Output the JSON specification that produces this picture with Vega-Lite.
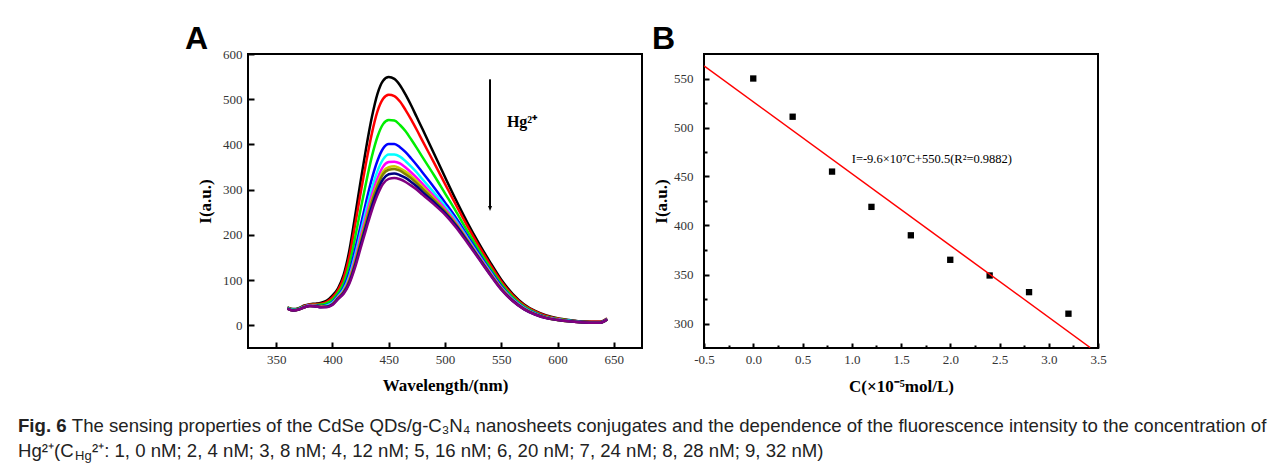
{
  "$schema": "https://vega.github.io/schema/vega-lite/v6.json",
  "background": "white",
  "padding": {"left": 18, "right": 18, "top": 22, "bottom": 4},
  "config": {
    "view": {"stroke": "black", "strokeWidth": 2},
    "axis": {"domain": false, "tickColor": "black", "tickWidth": 2, "labelFont": "Liberation Serif", "labelFontSize": 13, "labelColor": "#333333", "titleFont": "Liberation Serif", "titleFontSize": 17, "titleFontWeight": "bold", "titleColor": "black", "grid": false, "labelFlush": false, "labelOverlap": false},
    "title": {"font": "Liberation Sans", "fontSize": 32, "fontWeight": "bold", "color": "black", "anchor": "start", "frame": "group"}
  },
  "bounds": "flush",
  "spacing": 359,
  "vconcat": [
    {
      "bounds": "flush",
      "spacing": 62,
      "hconcat": [
        {
          "width": 394, "height": 294,
          "title": {"text": "A", "dx": -63, "offset": -8},
          "layer": [
            {
              "data": {"values": [
                {"w":360,"s1":40,"s2":39,"s3":39,"s4":38,"s5":38,"s6":37,"s7":37,"s8":37,"s9":37,"s10":37},
                {"w":365,"s1":36,"s2":35,"s3":35,"s4":34,"s5":34,"s6":33,"s7":33,"s8":33,"s9":33,"s10":33},
                {"w":370,"s1":38,"s2":37,"s3":37,"s4":36,"s5":36,"s6":35,"s7":35,"s8":35,"s9":35,"s10":35},
                {"w":375,"s1":44,"s2":43,"s3":42,"s4":41,"s5":41,"s6":41,"s7":40,"s8":40,"s9":40,"s10":40},
                {"w":380,"s1":47,"s2":46,"s3":45,"s4":44,"s5":44,"s6":44,"s7":43,"s8":43,"s9":43,"s10":43},
                {"w":385,"s1":48,"s2":47,"s3":45,"s4":44,"s5":43,"s6":43,"s7":43,"s8":43,"s9":42,"s10":42},
                {"w":390,"s1":50,"s2":48,"s3":46,"s4":43,"s5":42,"s6":42,"s7":41,"s8":41,"s9":40,"s10":40},
                {"w":395,"s1":55,"s2":52,"s3":49,"s4":45,"s5":44,"s6":42,"s7":42,"s8":41,"s9":41,"s10":40},
                {"w":400,"s1":66,"s2":62,"s3":57,"s4":52,"s5":50,"s6":48,"s7":47,"s8":47,"s9":46,"s10":45},
                {"w":405,"s1":82,"s2":78,"s3":72,"s4":66,"s5":64,"s6":62,"s7":61,"s8":60,"s9":59,"s10":58},
                {"w":410,"s1":112,"s2":105,"s3":94,"s4":84,"s5":80,"s6":77,"s7":75,"s8":74,"s9":72,"s10":70},
                {"w":415,"s1":165,"s2":152,"s3":134,"s4":117,"s5":109,"s6":104,"s7":101,"s8":99,"s9":95,"s10":92},
                {"w":420,"s1":240,"s2":220,"s3":192,"s4":166,"s5":154,"s6":146,"s7":140,"s8":137,"s9":132,"s10":127},
                {"w":425,"s1":318,"s2":292,"s3":256,"s4":220,"s5":205,"s6":195,"s7":187,"s8":183,"s9":177,"s10":170},
                {"w":430,"s1":393,"s2":361,"s3":317,"s4":274,"s5":256,"s6":243,"s7":234,"s8":229,"s9":221,"s10":213},
                {"w":435,"s1":460,"s2":424,"s3":373,"s4":324,"s5":303,"s6":288,"s7":278,"s8":273,"s9":263,"s10":254},
                {"w":440,"s1":512,"s2":473,"s3":417,"s4":364,"s5":341,"s6":325,"s7":314,"s8":308,"s9":298,"s10":288},
                {"w":445,"s1":541,"s2":501,"s3":445,"s4":391,"s5":367,"s6":351,"s7":340,"s8":334,"s9":323,"s10":313},
                {"w":450,"s1":549,"s2":510,"s3":454,"s4":401,"s5":378,"s6":361,"s7":350,"s8":344,"s9":334,"s10":324},
                {"w":455,"s1":545,"s2":507,"s3":453,"s4":401,"s5":378,"s6":362,"s7":352,"s8":346,"s9":336,"s10":326},
                {"w":460,"s1":531,"s2":495,"s3":443,"s4":394,"s5":373,"s6":358,"s7":347,"s8":342,"s9":332,"s10":323},
                {"w":465,"s1":510,"s2":476,"s3":429,"s4":383,"s5":363,"s6":349,"s7":340,"s8":334,"s9":326,"s10":317},
                {"w":470,"s1":486,"s2":455,"s3":411,"s4":369,"s5":351,"s6":338,"s7":330,"s8":325,"s9":317,"s10":309},
                {"w":475,"s1":460,"s2":432,"s3":392,"s4":354,"s5":338,"s6":326,"s7":319,"s8":314,"s9":307,"s10":300},
                {"w":480,"s1":434,"s2":408,"s3":372,"s4":338,"s5":323,"s6":313,"s7":306,"s8":302,"s9":295,"s10":289},
                {"w":490,"s1":381,"s2":361,"s3":333,"s4":306,"s5":294,"s6":286,"s7":281,"s8":278,"s9":273,"s10":268},
                {"w":500,"s1":328,"s2":313,"s3":292,"s4":272,"s5":264,"s6":258,"s7":254,"s8":252,"s9":249,"s10":245},
                {"w":510,"s1":276,"s2":265,"s3":251,"s4":237,"s5":231,"s6":227,"s7":224,"s8":222,"s9":220,"s10":216},
                {"w":520,"s1":227,"s2":219,"s3":208,"s4":198,"s5":193,"s6":190,"s7":188,"s8":187,"s9":185,"s10":182},
                {"w":530,"s1":182,"s2":176,"s3":167,"s4":159,"s5":155,"s6":153,"s7":151,"s8":150,"s9":149,"s10":147},
                {"w":540,"s1":140,"s2":135,"s3":128,"s4":122,"s5":119,"s6":117,"s7":115,"s8":115,"s9":113,"s10":112},
                {"w":550,"s1":101,"s2":97,"s3":92,"s4":87,"s5":84,"s6":83,"s7":82,"s8":81,"s9":80,"s10":79},
                {"w":560,"s1":70,"s2":67,"s3":63,"s4":59,"s5":58,"s6":57,"s7":56,"s8":55,"s9":55,"s10":54},
                {"w":570,"s1":47,"s2":45,"s3":42,"s4":40,"s5":39,"s6":38,"s7":37,"s8":37,"s9":36,"s10":36},
                {"w":580,"s1":32,"s2":31,"s3":29,"s4":27,"s5":26,"s6":25,"s7":25,"s8":25,"s9":24,"s10":24},
                {"w":590,"s1":22,"s2":21,"s3":19,"s4":18,"s5":17,"s6":17,"s7":17,"s8":17,"s9":16,"s10":16},
                {"w":600,"s1":16,"s2":15,"s3":14,"s4":13,"s5":13,"s6":13,"s7":12,"s8":12,"s9":12,"s10":12},
                {"w":610,"s1":12,"s2":11,"s3":11,"s4":10,"s5":10,"s6":9,"s7":9,"s8":9,"s9":9,"s10":9},
                {"w":620,"s1":9,"s2":9,"s3":8,"s4":8,"s5":7,"s6":7,"s7":7,"s8":7,"s9":7,"s10":7},
                {"w":630,"s1":8,"s2":8,"s3":7,"s4":7,"s5":6,"s6":6,"s7":6,"s8":6,"s9":6,"s10":6},
                {"w":638,"s1":8,"s2":8,"s3":7,"s4":7,"s5":6,"s6":6,"s7":6,"s8":6,"s9":6,"s10":6},
                {"w":644,"s1":15,"s2":15,"s3":14,"s4":14,"s5":13,"s6":13,"s7":13,"s8":13,"s9":13,"s10":13}
              ]},
              "transform": [{"fold": ["s1","s2","s3","s4","s5","s6","s7","s8","s9","s10"], "as": ["series", "I"]}],
              "mark": {"type": "line", "interpolate": "monotone", "strokeWidth": 2.5, "clip": true},
              "encoding": {
                "x": {"field": "w", "type": "quantitative", "scale": {"domain": [325, 675], "nice": false, "zero": false},
                      "axis": {"orient": "bottom", "title": "Wavelength/(nm)", "values": [350,400,450,500,550,600,650], "offset": -6, "tickSize": 6, "labelPadding": 5, "titlePadding": 11}},
                "y": {"field": "I", "type": "quantitative", "scale": {"domain": [-50, 600], "nice": false, "zero": false},
                      "axis": {"orient": "left", "title": "I(a.u.)", "values": [0,100,200,300,400,500,600], "offset": -6, "tickSize": 6, "labelPadding": 6, "titlePadding": 8}},
                "color": {"field": "series", "type": "nominal", "legend": null,
                          "scale": {"domain": ["s1","s2","s3","s4","s5","s6","s7","s8","s9","s10"], "range": ["#000000","#ff0000","#00ee00","#0000ff","#00ffff","#ff00ff","#cccc00","#808000","#000080","#800080"]}},
                "order": {"field": "series", "sort": "descending"}
              }
            },
            {
              "data": {"values": [{"w": 540, "top": 544, "bottom": 262}]},
              "mark": {"type": "rule", "strokeWidth": 2, "color": "black"},
              "encoding": {"x": {"field": "w", "type": "quantitative"}, "y": {"field": "top", "type": "quantitative"}, "y2": {"field": "bottom"}}
            },
            {
              "data": {"values": [{"w": 540, "tip": 253}]},
              "mark": {"type": "point", "shape": "M-0.4,-1L0.4,-1L0,0Z", "filled": true, "color": "black", "size": 100, "opacity": 1},
              "encoding": {"x": {"field": "w", "type": "quantitative"}, "y": {"field": "tip", "type": "quantitative"}}
            },
            {
              "data": {"values": [{"w": 555, "v": 449, "label": "Hg²⁺"}]},
              "mark": {"type": "text", "align": "left", "baseline": "middle", "font": "Liberation Serif", "fontWeight": "bold", "fontSize": 16, "color": "black"},
              "encoding": {"x": {"field": "w", "type": "quantitative"}, "y": {"field": "v", "type": "quantitative"}, "text": {"field": "label"}}
            }
          ]
        },
        {
          "width": 394, "height": 294,
          "title": {"text": "B", "dx": -52, "offset": -2},
          "resolve": {"axis": {"x": "independent", "y": "independent"}},
          "layer": [
            {
              "data": {"values": [
                {"c": 0.0, "i": 550}, {"c": 0.4, "i": 511}, {"c": 0.8, "i": 455}, {"c": 1.2, "i": 419},
                {"c": 1.6, "i": 390}, {"c": 2.0, "i": 365}, {"c": 2.4, "i": 349}, {"c": 2.8, "i": 332}, {"c": 3.2, "i": 310}
              ]},
              "mark": {"type": "point", "shape": "square", "filled": true, "color": "black", "size": 40, "opacity": 1},
              "encoding": {
                "x": {"field": "c", "type": "quantitative", "scale": {"domain": [-0.5, 3.5], "nice": false, "zero": false},
                      "axis": {"orient": "bottom", "title": "C(×10⁻⁵mol/L)", "values": [-0.5,0,0.5,1,1.5,2,2.5,3,3.5], "format": ".1f", "labelExpr": "replace(datum.label, '−', '-')", "offset": -5, "tickSize": 5, "labelPadding": 5, "titlePadding": 12}},
                "y": {"field": "i", "type": "quantitative", "scale": {"domain": [275, 575], "nice": false, "zero": false},
                      "axis": {"orient": "left", "title": "I(a.u.)", "values": [300,350,400,450,500,550], "offset": -5, "tickSize": 5, "labelPadding": 11, "titlePadding": 3}}
              }
            },
            {
              "data": {"values": [{"c": -0.5, "i": 562.9}, {"c": 3.42, "i": 275.5}]},
              "mark": {"type": "line", "color": "#ff0000", "strokeWidth": 1.5, "clip": true},
              "encoding": {
                "x": {"field": "c", "type": "quantitative",
                      "axis": {"orient": "bottom", "title": null, "values": [-0.25,0.25,0.75,1.25,1.75,2.25,2.75,3.25], "labels": false, "offset": -3, "tickSize": 3}},
                "y": {"field": "i", "type": "quantitative",
                      "axis": {"orient": "left", "title": null, "values": [325,375,425,475,525], "labels": false, "offset": -3, "tickSize": 3}}
              }
            },
            {
              "data": {"values": [{"c": 1.0, "i": 468, "label": "I=-9.6×10⁷C+550.5(R²=0.9882)"}]},
              "mark": {"type": "text", "align": "left", "baseline": "middle", "font": "Liberation Serif", "fontSize": 12.5, "color": "black"},
              "encoding": {"x": {"field": "c", "type": "quantitative", "axis": null}, "y": {"field": "i", "type": "quantitative", "axis": null}, "text": {"field": "label"}}
            }
          ]
        }
      ]
    },
    {
      "width": 1017, "height": 50,
      "view": {"stroke": null},
      "data": {"values": [
        {"line": 1, "seg": "fig", "text": "Fig. 6"},
        {"line": 1, "seg": "body", "text": "The sensing properties of the CdSe QDs/g-C₃N₄ nanosheets conjugates and the dependence of the fluorescence intensity to the concentration of"},
        {"line": 2, "seg": "a", "text": "Hg²⁺(C"},
        {"line": 2, "seg": "sub", "text": "Hg"},
        {"line": 2, "seg": "c", "text": "²⁺: 1, 0 nM; 2, 4 nM; 3, 8 nM; 4, 12 nM; 5, 16 nM; 6, 20 nM; 7, 24 nM; 8, 28 nM; 9, 32 nM)"}
      ]},
      "encoding": {
        "y": {"field": "line", "type": "ordinal", "axis": null, "scale": {"paddingInner": 0, "paddingOuter": 0}},
        "x": {"value": 0},
        "text": {"field": "text"}
      },
      "layer": [
        {"transform": [{"filter": "datum.seg === 'fig'"}], "mark": {"type": "text", "align": "left", "baseline": "middle", "font": "Liberation Sans", "fontSize": 18.6, "fontWeight": "bold", "color": "#222222", "dx": -230}},
        {"transform": [{"filter": "datum.seg === 'body'"}], "mark": {"type": "text", "align": "left", "baseline": "middle", "font": "Liberation Sans", "fontSize": 18.6, "color": "#222222", "dx": -176.2}},
        {"transform": [{"filter": "datum.seg === 'a'"}], "mark": {"type": "text", "align": "left", "baseline": "middle", "font": "Liberation Sans", "fontSize": 18.6, "color": "#222222", "dx": -230}},
        {"transform": [{"filter": "datum.seg === 'sub'"}], "mark": {"type": "text", "align": "left", "baseline": "middle", "font": "Liberation Sans", "fontSize": 13, "color": "#222222", "dx": -173, "dy": 5}},
        {"transform": [{"filter": "datum.seg === 'c'"}], "mark": {"type": "text", "align": "left", "baseline": "middle", "font": "Liberation Sans", "fontSize": 18.6, "color": "#222222", "dx": -156}}
      ]
    }
  ]
}
